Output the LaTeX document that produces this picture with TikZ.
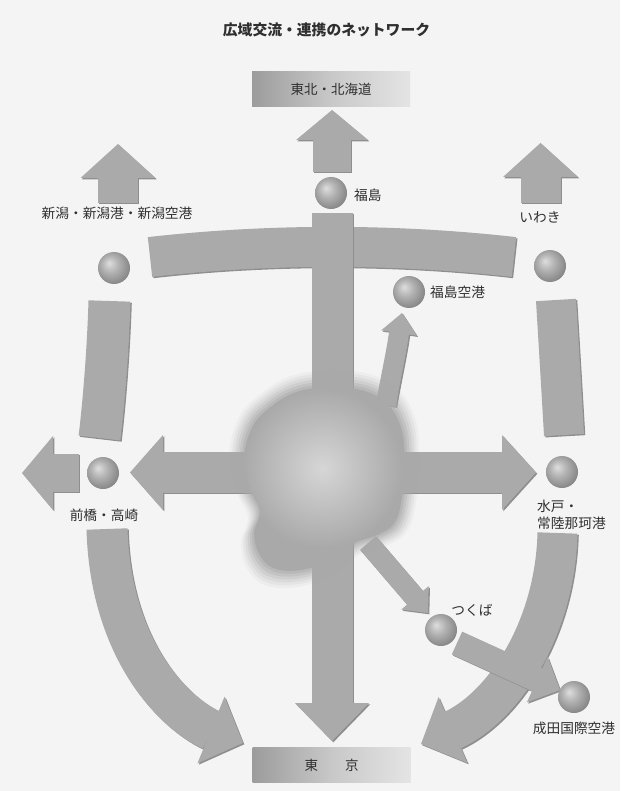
\documentclass[tikz,border=0pt]{standalone}
\usepackage{fontspec}
\setmainfont{Noto Sans CJK JP}
\usetikzlibrary{calc}
\definecolor{bg}{HTML}{F4F4F4}
\definecolor{arrowgray}{HTML}{AAAAAA}
\definecolor{shadowgray}{HTML}{8E8E8E}
\definecolor{blobgray}{HTML}{A9A9A9}
\definecolor{blobhi}{HTML}{D6D6D6}
\definecolor{txt}{HTML}{2F2F2F}
\definecolor{boxl}{HTML}{9C9C9C}
\definecolor{boxm}{HTML}{C8C8C8}
\definecolor{boxr}{HTML}{E4E4E4}
\pgfdeclareradialshading{greyball}{\pgfpoint{-8bp}{8bp}}{%
  color(0bp)=(rgb,255:red,222;green,222;blue,222);
  color(13bp)=(rgb,255:red,178;green,178;blue,178);
  color(30bp)=(rgb,255:red,130;green,130;blue,130);
  color(50bp)=(rgb,255:red,130;green,130;blue,130)}

% draw #1 twice: first as a shifted darker shadow, then in the arrow grey
\newcommand\withshadow[1]{%
  \begin{scope}[transform canvas={xshift=1.3pt,yshift=-1.3pt}]\colorlet{ac}{shadowgray}#1\end{scope}%
  \begin{scope}\colorlet{ac}{arrowgray}#1\end{scope}}
% straight block arrow: from #1 to tip #2, shaft width #3, head half width #4, head length #5
\newcommand\sarrow[5]{%
  \coordinate (hbase) at ($(#2)!#5!(#1)$);
  \coordinate (hbin) at ($(#2)!#5-1pt!(#1)$);
  \draw[ac, line width=#3] (#1) -- (hbin);
  \fill[ac] ($(hbase)!#4!90:(#2)$) -- (#2) -- ($(hbase)!#4!-90:(#2)$) -- cycle;}
% curved block arrow: start #1, controls #2 #3, head base #4, tip #5, width #6, head half width #7
\newcommand\carrow[7]{%
  \draw[ac, line width=#6] (#1) .. controls (#2) and (#3) .. ($(#4)!1pt!(#5)$);
  \fill[ac] ($(#4)!#7!90:(#5)$) -- (#5) -- ($(#4)!#7!-90:(#5)$) -- cycle;}

\tikzset{
  lbl/.style={text=txt, font=\fontsize{13.7}{16.5}\selectfont, inner sep=0pt},
  ballst/.style={circle, minimum size=32pt, inner sep=0pt, shading=greyball},
  boxst/.style={minimum width=158pt, minimum height=35pt, inner sep=0pt,
    left color=boxl, right color=boxr, middle color=boxm, text=txt,
    font=\fontsize{13.5}{16}\selectfont},
}

\begin{document}
\begin{tikzpicture}[x=1pt, y=-1pt, line cap=butt]
\useasboundingbox (0,0) rectangle (620,791);
\fill[bg] (0,0) rectangle (620,791);

% ---------- coordinates ----------
\coordinate (topS) at (332,172);   \coordinate (topT) at (332,110);
\coordinate (nS) at (118,203);     \coordinate (nT) at (118,144);
\coordinate (iS) at (540.5,203);   \coordinate (iT) at (540.5,143);
\coordinate (arcL) at (150,257);   \coordinate (arcC1) at (270,243.5);
\coordinate (arcC2) at (394,243.5);\coordinate (arcR) at (514,257);
\coordinate (lbT) at (109.5,301);  \coordinate (lbC1) at (108,350);
\coordinate (lbC2) at (104,400);   \coordinate (lbB) at (99.5,438);
\coordinate (rbT) at (556,300);    \coordinate (rbC1) at (559,350);
\coordinate (rbC2) at (562,400);   \coordinate (rbB) at (564,435);
\coordinate (ctrTop) at (332,213); \coordinate (tokT) at (332,741);
\coordinate (ctr) at (332,472.5);  \coordinate (hL) at (130,472.5);
\coordinate (hR) at (536,472.5);
\coordinate (flS) at (79,473);     \coordinate (flT) at (22,473);
\coordinate (clS) at (107,529);    \coordinate (clC1) at (110,640);
\coordinate (clC2) at (165,708);   \coordinate (clB) at (211,730);
\coordinate (clT) at (243,743);
\coordinate (crS) at (557.5,533);  \coordinate (crC1) at (555,630);
\coordinate (crC2) at (503,707);   \coordinate (crB) at (453,730);
\coordinate (crT) at (421,744);
\coordinate (faS) at (386,405);    \coordinate (faC1) at (390,380);
\coordinate (faC2) at (396,355);   \coordinate (faB) at (399,333);
\coordinate (faT) at (402,313);
\coordinate (tsS) at (368,543);    \coordinate (tsT) at (428,613);
\coordinate (naS) at (457,643);    \coordinate (naT) at (560,690);

% ---------- outer ring ----------
\withshadow{\draw[ac, line width=40pt] (arcL) .. controls (arcC1) and (arcC2) .. (arcR);}
\withshadow{\draw[ac, line width=42pt] (lbT) .. controls (lbC1) and (lbC2) .. (lbB);}
\withshadow{\draw[ac, line width=40pt] (rbT) .. controls (rbC1) and (rbC2) .. (rbB);}
\withshadow{\carrow{clS}{clC1}{clC2}{clB}{clT}{41pt}{36pt}}
\withshadow{\carrow{crS}{crC1}{crC2}{crB}{crT}{40pt}{36pt}}

% ---------- up arrows ----------
\withshadow{\sarrow{nS}{nT}{40pt}{37.5pt}{34pt}}
\withshadow{\sarrow{iS}{iT}{40pt}{37.5pt}{34pt}}
\withshadow{\sarrow{topS}{topT}{38pt}{36pt}{30pt}}

% ---------- central cross ----------
\withshadow{\sarrow{ctrTop}{tokT}{41pt}{37pt}{38pt}}
\withshadow{\sarrow{ctr}{hL}{41pt}{37.5pt}{33pt}}
\withshadow{\sarrow{ctr}{hR}{41pt}{37.5pt}{34pt}}
\withshadow{\sarrow{flS}{flT}{38pt}{37pt}{31pt}}
\withshadow{\carrow{faS}{faC1}{faC2}{faB}{faT}{20pt}{18pt}}
\withshadow{\sarrow{tsS}{tsT}{21pt}{18pt}{20pt}}

% ---------- central blob (soft edged) ----------
\foreach \s/\o in {1.15/0.09,1.12/0.12,1.09/0.16,1.06/0.22,1.03/0.30,1.0/0.42,0.97/1}{
  \fill[blobgray, opacity=\o, shift={(325,478)}, scale=\s, shift={(-325,-478)}]
    plot[smooth cycle, tension=0.65] coordinates {(300,388) (350,385) (385,398) (403,425)
      (407,460) (404,500) (396,525) (378,537) (355,545) (335,560) (305,572) (275,572)
      (258,558) (252,535) (258,512) (248,490) (242,460) (248,430) (265,408)};
}
\begin{scope}[shift={(325,478)}, scale=0.97, shift={(-325,-478)}]
  \clip plot[smooth cycle, tension=0.65] coordinates {(300,388) (350,385) (385,398) (403,425)
      (407,460) (404,500) (396,525) (378,537) (355,545) (335,560) (305,572) (275,572)
      (258,558) (252,535) (258,512) (248,490) (242,460) (248,430) (265,408)};
  \shade[inner color=blobhi, outer color=blobgray] (322,468) circle[radius=82pt];
\end{scope}

% ---------- Tsukuba -> Narita ----------
\withshadow{\sarrow{naS}{naT}{25pt}{25pt}{25pt}}

% ---------- boxes ----------
\node[boxst] (tohoku) at (331,89.5) {東北・北海道};
\node[boxst] (tokyo) at (331.5,765) {東　　京};

% ---------- balls ----------
\node[ballst] (bFukushima) at (331,193) {};
\node[ballst] (bNiigata) at (114,268) {};
\node[ballst] (bIwaki) at (550,266) {};
\node[ballst] (bFkAirport) at (409,292) {};
\node[ballst] (bMaebashi) at (103,473) {};
\node[ballst] (bMito) at (562,472) {};
\node[ballst] (bTsukuba) at (441,630) {};
\node[ballst] (bNarita) at (574,697) {};

% ---------- labels ----------
\node[text=txt, font=\fontsize{14.8}{18}\selectfont\bfseries, inner sep=0pt] (title) at (326.5,30) {広域交流・連携のネットワーク};
\node[lbl] (labNiigata) at (117,213) {新潟・新潟港・新潟空港};
\node[lbl, anchor=west] (labFukushima) at (354,195) {福島};
\node[lbl, anchor=west] (labFkAirport) at (430,292) {福島空港};
\node[lbl] (labIwaki) at (540,217) {いわき};
\node[lbl] (labMaebashi) at (104,515) {前橋・高崎};
\node[lbl, anchor=west] (labMito) at (537,506) {水戸・};
\node[lbl, anchor=west] (labHitachinaka) at (537,523) {常陸那珂港};
\node[lbl] (labTsukuba) at (472,610) {つくば};
\node[lbl] (labNarita) at (574,728) {成田国際空港};
\end{tikzpicture}
\end{document}
